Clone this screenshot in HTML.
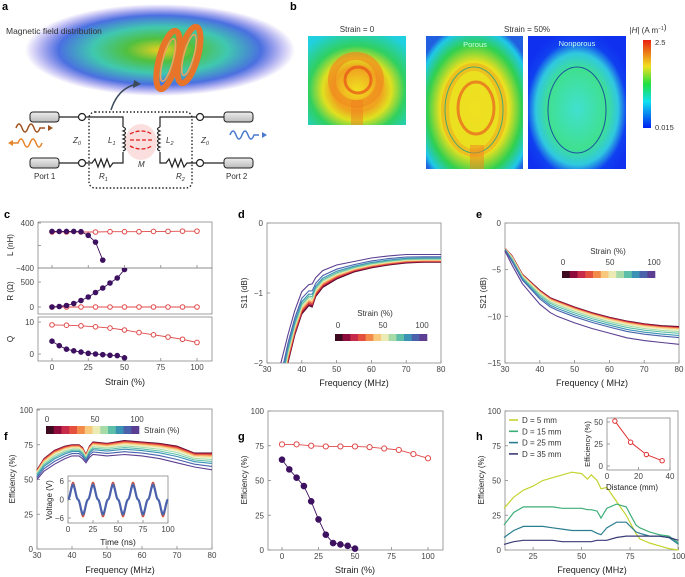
<!DOCTYPE html>
<html><head><meta charset="utf-8">
<style>
html,body{margin:0;padding:0;background:#fff;}
svg{display:block;font-family:"Liberation Sans",sans-serif;}
.pl{font-size:11px;font-weight:bold;fill:#000;}
</style></head>
<body>
<svg id="fig" width="685" height="577" viewBox="0 0 685 577" xmlns="http://www.w3.org/2000/svg">
<defs>
<radialGradient id="cloud" cx="0.5" cy="0.5" r="0.5">
<stop offset="0" stop-color="#e8d020"/><stop offset="0.25" stop-color="#50c040"/><stop offset="0.5" stop-color="#40c8b0"/><stop offset="0.75" stop-color="#4a70e0"/><stop offset="1" stop-color="#6a50e0" stop-opacity="0"/>
</radialGradient>
<radialGradient id="hm0" cx="0.5" cy="0.6" r="0.7">
<stop offset="0" stop-color="#f0e020"/><stop offset="0.35" stop-color="#f0a020"/><stop offset="0.5" stop-color="#e0e020"/><stop offset="0.7" stop-color="#30d060"/><stop offset="1" stop-color="#20d0e0"/>
</radialGradient>
<radialGradient id="hm1" cx="0.5" cy="0.55" r="0.65">
<stop offset="0" stop-color="#f0e020"/><stop offset="0.55" stop-color="#e8e020"/><stop offset="0.75" stop-color="#30d050"/><stop offset="0.92" stop-color="#20c8e8"/><stop offset="1" stop-color="#2060e0"/>
</radialGradient>
<radialGradient id="hm2" cx="0.5" cy="0.55" r="0.6">
<stop offset="0" stop-color="#40e0d0"/><stop offset="0.5" stop-color="#40e090"/><stop offset="0.7" stop-color="#30c8e0"/><stop offset="0.85" stop-color="#1040f0"/><stop offset="1" stop-color="#1030f0"/>
</radialGradient>
<linearGradient id="cbar" x1="0" y1="1" x2="0" y2="0">
<stop offset="0" stop-color="#0020f0"/><stop offset="0.3" stop-color="#10e0f0"/><stop offset="0.5" stop-color="#20e040"/><stop offset="0.7" stop-color="#f0e020"/><stop offset="1" stop-color="#e82010"/>
</linearGradient>
<linearGradient id="cab" x1="0" y1="0" x2="0" y2="1"><stop offset="0" stop-color="#eee"/><stop offset="1" stop-color="#bbb"/></linearGradient>
</defs>

<text class="pl" x="2" y="10">a</text>
<text class="pl" x="290" y="10">b</text>
<text class="pl" x="4" y="218">c</text>
<text class="pl" x="238" y="218">d</text>
<text class="pl" x="476" y="218">e</text>
<text class="pl" x="4" y="440">f</text>
<text class="pl" x="238" y="440">g</text>
<text class="pl" x="476" y="440">h</text>

<g>
<ellipse cx="160" cy="50" rx="135" ry="46" fill="url(#cloud)"/>
<text x="6" y="34" font-size="8.5" fill="#333">Magnetic field distribution</text>
<g fill="none" stroke="#e8742a">
<ellipse cx="168" cy="60" rx="9" ry="30" stroke-width="6" transform="rotate(15 168 60)"/>
<ellipse cx="189" cy="55" rx="9" ry="29" stroke-width="6" transform="rotate(15 189 55)"/>
<ellipse cx="168" cy="60" rx="5" ry="22" stroke-width="1.5" stroke="#f3a060" transform="rotate(15 168 60)"/>
<ellipse cx="189" cy="55" rx="5" ry="21" stroke-width="1.5" stroke="#f3a060" transform="rotate(15 189 55)"/>
</g>
<path d="M111 110 Q118 88 137 84" fill="none" stroke="#3a4a5a" stroke-width="1.5"/>
<path d="M134 80 L141 84 L133 88 Z" fill="#3a4a5a"/>
<rect x="30" y="112" width="29" height="10" rx="3" fill="url(#cab)" stroke="#222" stroke-width="1"/>
<rect x="30" y="158" width="29" height="10" rx="3" fill="url(#cab)" stroke="#222" stroke-width="1"/>
<rect x="224" y="112" width="29" height="10" rx="3" fill="url(#cab)" stroke="#222" stroke-width="1"/>
<rect x="224" y="158" width="29" height="10" rx="3" fill="url(#cab)" stroke="#222" stroke-width="1"/>
<g stroke="#222" stroke-width="1.2" fill="none">
<path d="M59 117 H78 M86 117 H123 V127 M59 163 H78 M86 163 H92 l3 -4 l3 8 l3 -8 l3 8 l3 -8 l3 8 l3 -4 H123 V152"/>
<path d="M123 127 q5 2 0 4 q5 2 0 4 q5 2 0 4 q5 2 0 4 q5 2 0 4 q5 2 0 4"/>
<path d="M160 127 q-5 2 0 4 q-5 2 0 4 q-5 2 0 4 q-5 2 0 4 q-5 2 0 4 q-5 2 0 4"/>
<path d="M160 127 V117 H196 M204 117 H224 M160 152 V163 H166 l3 -4 l3 8 l3 -8 l3 8 l3 -8 l3 8 l3 -4 H196 M204 163 H224"/>
<circle cx="82" cy="117" r="3.5" fill="#fff"/><circle cx="82" cy="163" r="3.5" fill="#fff"/>
<circle cx="200" cy="117" r="3.5" fill="#fff"/><circle cx="200" cy="163" r="3.5" fill="#fff"/>
</g>
<rect x="89" y="112" width="103" height="76" rx="6" fill="none" stroke="#222" stroke-width="1.4" stroke-dasharray="1.5,2"/>
<ellipse cx="141" cy="142" rx="16" ry="18" fill="#f08080" opacity="0.25"/>
<g stroke="#e02020" stroke-width="1.3" stroke-dasharray="4,2" fill="none">
<path d="M130 134 Q141 128 152 134"/><path d="M130 140 H152"/><path d="M130 146 Q141 152 152 146"/>
</g>
<path d="M16 128 q3 -8 6 0 q3 8 6 0 q3 -8 6 0 q3 8 6 0 h5" fill="none" stroke="#a0521e" stroke-width="1.5"/>
<path d="M48 125 l5 3 l-5 3z" fill="#a0521e"/>
<path d="M13 143 h5 q3 -8 6 0 q3 8 6 0 q3 -8 6 0 q3 8 6 0" fill="none" stroke="#e8842a" stroke-width="1.5"/>
<path d="M13 140 l-5 3 l5 3z" fill="#e8842a"/>
<path d="M230 135 q3 -8 6 0 q3 8 6 0 q3 -8 6 0 q3 8 6 0 h5" fill="none" stroke="#4a78d0" stroke-width="1.5"/>
<path d="M262 132 l5 3 l-5 3z" fill="#4a78d0"/>
<g font-size="8" fill="#333" font-style="italic">
<text x="73" y="143">Z<tspan font-size="5.5" dy="2">0</tspan></text>
<text x="108" y="143">L<tspan font-size="5.5" dy="2">1</tspan></text>
<text x="166" y="143">L<tspan font-size="5.5" dy="2">2</tspan></text>
<text x="201" y="143">Z<tspan font-size="5.5" dy="2">0</tspan></text>
<text x="138" y="167">M</text>
<text x="99" y="179">R<tspan font-size="5.5" dy="2">1</tspan></text>
<text x="176" y="179">R<tspan font-size="5.5" dy="2">2</tspan></text>
</g>
<text x="34" y="179" font-size="8" fill="#333">Port 1</text>
<text x="226" y="179" font-size="8" fill="#333">Port 2</text>
</g>

<g>
<text x="357" y="32" font-size="8" text-anchor="middle" fill="#333">Strain = 0</text>
<text x="527" y="32" font-size="8" text-anchor="middle" fill="#333">Strain = 50%</text>
<rect x="308" y="36" width="98" height="89" fill="url(#hm0)"/>
<circle cx="356" cy="80" r="24" fill="none" stroke="#f08a20" stroke-width="8" opacity="0.7"/>
<circle cx="358" cy="80" r="13" fill="none" stroke="#e85018" stroke-width="3" opacity="0.7"/>
<rect x="351" y="100" width="12" height="25" fill="#f08020" opacity="0.5"/>
<rect x="426" y="36" width="97" height="133" fill="url(#hm1)"/>
<ellipse cx="474" cy="110" rx="29" ry="43" fill="none" stroke="#f0a020" stroke-width="8" opacity="0.5"/>
<ellipse cx="476" cy="108" rx="18" ry="26" fill="none" stroke="#e86020" stroke-width="3" opacity="0.7"/>
<ellipse cx="474" cy="110" rx="29" ry="43" fill="none" stroke="#20a080" stroke-width="1" opacity="0.8"/>
<rect x="470" y="145" width="14" height="24" fill="#f08020" opacity="0.5"/>
<text x="475" y="47" font-size="7.5" text-anchor="middle" fill="#cfe">Porous</text>
<rect x="528" y="36" width="98" height="133" fill="url(#hm2)"/>
<ellipse cx="577" cy="110" rx="29" ry="43" fill="none" stroke="#1030a0" stroke-width="1" opacity="0.8"/>
<text x="577" y="46" font-size="7.5" text-anchor="middle" fill="#cfe">Nonporous</text>
<text x="648" y="33" font-size="8" text-anchor="middle" fill="#333">|<tspan font-style="italic">H</tspan>| (A m<tspan font-size="5" dy="-3">−1</tspan>)</text>
<rect x="643" y="40" width="8" height="88" fill="url(#cbar)"/>
<text x="655" y="45" font-size="7.5" fill="#333">2.5</text>
<text x="655" y="130" font-size="7.5" fill="#333">0.015</text>
</g>

<g id="charts"></g>
</svg>
<script>
const cmap = ['#3d0a20','#8e0c3c','#c82a4a','#e5503e','#f28a4a','#f8c87c','#ecebb4','#a6dba8','#5ebfa8','#3a92b4','#4a62ac','#5c3f92','#262448'];
const strainL = [0,5,10,15,20,25,30,35];
const purpleL = [250,250,250,250,245,180,60,-260];
const strainRed = [0,10,20,30,40,50,60,70,80,90,100];
const redL = [240,240,240,240,245,245,245,250,250,255,255];
const strainP = [0,5,10,15,20,25,30,35,40,45,50];
const purpleR = [0,10,30,70,130,200,290,380,480,580,750];
const redR = [0,0,0,0,0,0,0,0,0,0,0];
const redQ = [9.1,9.0,8.8,8.5,8.1,7.5,6.7,6.0,5.3,4.6,3.6];
const purpleQ = [4.0,2.6,1.5,1.0,0.6,0.2,0.0,-0.2,-0.4,-0.5,-1.2];

const freqD = [34,36,38,40,42,43,44,46,50,55,60,65,70,75,80];
const s11Low = [-2.6,-2.0,-1.6,-1.3,-1.18,-1.2,-1.05,-0.92,-0.8,-0.7,-0.64,-0.6,-0.57,-0.56,-0.56];
const s11High = [-2.0,-1.6,-1.25,-0.98,-0.88,-0.87,-0.78,-0.68,-0.6,-0.55,-0.5,-0.47,-0.45,-0.45,-0.45];
const s11Mix = [0,0.05,0.1,0.15,0.2,0.26,0.32,0.38,0.45,0.55,0.7,1.0];

const freqE = [30,32,35,40,43,45,50,55,60,65,70,75,80];
const s21Low = [-2.7,-3.5,-5.5,-7.2,-8.0,-8.3,-9.0,-9.6,-10.1,-10.5,-10.8,-11.0,-11.1];
const s21High = [-3.0,-4.5,-6.5,-8.7,-9.6,-10.0,-10.7,-11.3,-11.8,-12.3,-12.6,-12.8,-13.0];
const s21Mix = [0,0.02,0.05,0.08,0.1,0.13,0.2,0.28,0.38,0.5,0.62,1.0];

const freqF = [30,32,35,38,40,42,43,44,45,46,50,55,60,65,70,75,80];
const effHigh = [57,65,71,74,75,75,73,68,74,77,76,78,77,76,74,69,69];
const effLow = [50,56,61,65,67,67,65,62,66,68,67,68,67,65,62,59,57];
const effMix = [0,0.03,0.06,0.1,0.14,0.2,0.28,0.38,0.5,0.62,0.8,1.0];
const timeF = [0,5,10,15,20,25,30,35,40,45,50,55,60,65,70,75,80,85,90,95,100];
const voltF = [0,5,0,-5,0,5,0,-5,0,5,0,-5,0,5,0,-5,0,5,0,-5,0];

const strainG1 = [0,10,20,30,40,50,60,70,80,90,100];
const effPorous = [76,76,75,74.5,74.5,74.5,74,73,72,69,66];
const strainG2 = [0,5,10,15,20,25,30,35,40,45,50];
const effNonporous = [65,58,52,46,35,22,11,5,4,3,1];

const freqH = [10,15,20,25,30,35,40,45,50,53,55,58,60,63,68,73,78,80,85,90,95,100];
const effD5 = [30,38,43,46,50,52,54,56,55,51,54,50,44,45,35,25,12,8,5,3,1,0];
const effD15 = [18,27,31,31,31,31,30,30,30,29,29,28,23,30,33,31,18,16,13,11,10,5];
const effD25 = [9,14,17,17,17,16,15,14,14,14,14,12,11,16,20,20,13,12,10,10,9,4];
const effD35 = [4,6,7,7,7,7,6,6,6,6,6,7,7,7,9,10,10,10,10,10,9,7];
const distH = [5,15,25,35];
const effDist = [51,27,13,6];
const hLabels = ['D = 5 mm','D = 15 mm','D = 25 mm','D = 35 mm'];
const hColors = ['#c4d430','#3eae78','#2a7e90','#3a3c78'];

const NS='http://www.w3.org/2000/svg';
const root=document.getElementById('charts');
function el(tag,attrs,name,parent){
  const e=document.createElementNS(NS,tag);
  for(const k in attrs)e.setAttribute(k,attrs[k]);
  
  
  (parent||root).appendChild(e);return e;
}
function txt(x,y,s,name,opt){
  opt=opt||{};
  const t=el('text',{x:x,y:y,'font-size':opt.fs||8,fill:opt.fill||'#444','text-anchor':opt.anchor||'middle'},name);
  if(opt.rot)t.setAttribute('transform','rotate(-90 '+x+' '+y+')');
  t.textContent=s;return t;
}
function box(x0,y0,x1,y1,name){el('rect',{x:x0,y:y0,width:x1-x0,height:y1-y0,fill:'none',stroke:'#888','stroke-width':0.8},name);}
function line(xs,ys,sx,sy,color,name,w,parent){
  let d='';for(let i=0;i<xs.length;i++)d+=(i?'L':'M')+sx(xs[i]).toFixed(1)+' '+sy(ys[i]).toFixed(1);
  el('path',{d:d,fill:'none',stroke:color,'stroke-width':w||1.2},name,parent);
}
function pts(xs,ys,sx,sy,color,filled,name,r,parent){
  for(let i=0;i<xs.length;i++)el('circle',{cx:sx(xs[i]),cy:sy(ys[i]),r:r||2.6,fill:filled?color:'#fff',stroke:color,'stroke-width':1},name,parent);
}
function xticks(vals,sx,yb,name,len){
  vals.forEach(v=>{el('line',{x1:sx(v),x2:sx(v),y1:yb,y2:yb-(len||3),stroke:'#888','stroke-width':0.8},name+'-tick');txt(sx(v),yb+9,String(v),name+'-label');});
}
function yticks(vals,sy,xl,name,labels){
  vals.forEach((v,i)=>{el('line',{x1:xl,x2:xl+3,y1:sy(v),y2:sy(v),stroke:'#888','stroke-width':0.8},name+'-tick');
    const lb=labels?labels[i]:String(v); if(lb!=='')txt(xl-4,sy(v)+3,lb.replace('-','−'),name+'-label',{anchor:'end'});});
}
function mix(a,b,w){return a.map((v,i)=>v+(b[i]-v)*w);}
function clip(id,x0,y0,x1,y1){const c=el('clipPath',{id:id},'clip');el('rect',{x:x0,y:y0,width:x1-x0,height:y1-y0},'clip-rect',c);}
function colorbar(x0,y0,w,h,name){const n=cmap.length-1;for(let i=0;i<n;i++)el('rect',{x:x0+i*w/n,y:y0,width:w/n+0.3,height:h,fill:cmap[i]},name);}

// panel c
const cx=s=>52+s*1.45;
const yL=v=>245.5-v*0.05625, yR=v=>307-v*0.05, yQ=v=>354-v*3.2;
box(38,222,212,268,'inductance-plot-frame');box(38,268,212,314,'resistance-plot-frame');box(38,317,212,361,'q-plot-frame');
clip('cL',38,222,212,268);clip('cR',38,268,212,314);clip('cQ',38,317,212,361);
yticks([400,0,-400],yL,38,'l-axis',['400','','-400']);yticks([500,0],yR,38,'r-axis');yticks([10,0],yQ,38,'q-axis');
[0,25,50,75,100].forEach(v=>{el('line',{x1:cx(v),x2:cx(v),y1:268,y2:265,stroke:'#888','stroke-width':0.8},'l-x-tick');});
xticks([0,25,50,75,100],cx,361,'c-x-axis');
txt(125,385,'Strain (%)','c-x-title',{fs:9,fill:'#222'});
txt(13,245,'L (nH)','l-y-title',{rot:1,fill:'#222'});txt(13,291,'R (Ω)','r-y-title',{rot:1,fill:'#222'});txt(13,339,'Q','q-y-title',{rot:1,fill:'#222'});
const gL=el('g',{'clip-path':'url(#cL)'},'l-series');
const gR=el('g',{'clip-path':'url(#cR)'},'r-series');
const gQ=el('g',{'clip-path':'url(#cQ)'},'q-series');
line(strainRed,redL,cx,yL,'#e04a4a','l-porous-line',0.9,gL);pts(strainRed,redL,cx,yL,'#e04a4a',false,'l-porous-point',2.3,gL);
line(strainL,purpleL,cx,yL,'#3d1060','l-nonporous-line',0.9,gL);pts(strainL,purpleL,cx,yL,'#3d1060',true,'l-nonporous-point',2.3,gL);
line(strainRed,redR,cx,yR,'#e04a4a','r-porous-line',0.9,gR);pts(strainRed,redR,cx,yR,'#e04a4a',false,'r-porous-point',2.3,gR);
line(strainP,purpleR,cx,yR,'#3d1060','r-nonporous-line',0.9,gR);pts(strainP,purpleR,cx,yR,'#3d1060',true,'r-nonporous-point',2.3,gR);
line(strainRed,redQ,cx,yQ,'#e04a4a','q-porous-line',0.9,gQ);pts(strainRed,redQ,cx,yQ,'#e04a4a',false,'q-porous-point',2.3,gQ);
line(strainP,purpleQ,cx,yQ,'#3d1060','q-nonporous-line',0.9,gQ);pts(strainP,purpleQ,cx,yQ,'#3d1060',true,'q-nonporous-point',2.3,gQ);

// panel d
const dx=f=>267+(f-30)*3.48, dy=v=>223-v*70;
clip('cD',267,223,441,363);
box(267,223,441,363,'s11-plot-frame');
yticks([0,-1,-2],dy,267,'s11-y-axis');xticks([30,40,50,60,70,80],dx,363,'s11-x-axis');
txt(354,386,'Frequency (MHz)','s11-x-title',{fs:9,fill:'#222'});
txt(247,293,'S11 (dB)','s11-y-title',{rot:1,fill:'#222'});
const gD=el('g',{'clip-path':'url(#cD)'},'s11-curves');
s11Mix.forEach((w,i)=>{line(freqD,mix(s11Low,s11High,w),dx,dy,cmap[i],'s11-curve',1.1,gD);});
txt(375,316,'Strain (%)','s11-legend-title',{fs:8,fill:'#333'});
txt(338,328,'0','s11-legend-0');txt(383,328,'50','s11-legend-50');txt(422,328,'100','s11-legend-100');
colorbar(335,334,92,7,'s11-colorbar-swatch');

// panel e
const ex=f=>505+(f-30)*3.48, ey=v=>223-v*9.333;
box(505,223,679,363,'s21-plot-frame');
yticks([0,-5,-10,-15],ey,505,'s21-y-axis');xticks([30,40,50,60,70,80],ex,363,'s21-x-axis');
txt(592,386,'Frequency ( MHz)','s21-x-title',{fs:9,fill:'#222'});
txt(486,293,'S21 (dB)','s21-y-title',{rot:1,fill:'#222'});
s21Mix.forEach((w,i)=>{line(freqE,mix(s21Low,s21High,w),ex,ey,cmap[i],'s21-curve',1.1);});
txt(608,254,'Strain (%)','s21-legend-title',{fs:8,fill:'#333'});
txt(563,265,'0','s21-legend-0');txt(610,265,'50','s21-legend-50');txt(654,265,'100','s21-legend-100');
colorbar(562,271,93,7,'s21-colorbar-swatch');

// panel f
const fx=f=>37+(f-30)*3.5, fy=v=>549-v*1.39;
box(37,409,212,549,'efficiency-freq-plot-frame');
yticks([0,25,50,75,100],fy,37,'f-y-axis');xticks([30,40,50,60,70,80],fx,549,'f-x-axis');
txt(120,573,'Frequency (MHz)','f-x-title',{fs:9,fill:'#222'});
txt(15,479,'Efficiency (%)','f-y-title',{rot:1,fill:'#222'});
effMix.forEach((w,i)=>{line(freqF,mix(effHigh,effLow,w),fx,fy,cmap[i],'f-efficiency-curve',1.1);});
txt(47,422,'0','f-legend-0');txt(95,422,'50','f-legend-50');txt(137,422,'100','f-legend-100');
colorbar(46,426,93,8,'f-colorbar-swatch');
txt(144,433,'Strain (%)','f-legend-title',{fs:8,fill:'#333',anchor:'start'});
const ix=t=>68+t*1.0, iy=v=>499.5-v*3.08;
el('rect',{x:68,y:476,width:100,height:47,fill:'#fff',stroke:'#888','stroke-width':0.8},'voltage-inset-frame');
yticks([6,0,-6],iy,68,'inset-y-axis');xticks([0,25,50,75,100],ix,523,'inset-x-axis');
txt(118,545,'Time (ns)','inset-x-title',{fs:8.5,fill:'#222'});
txt(52,500,'Voltage (V)','inset-y-title',{rot:1,fill:'#222'});
[cmap[4],cmap[2],cmap[8],cmap[10]].forEach((c,k)=>{const sc=[1.12,1.08,1.0,0.94][k];
  let d='';for(let t=0;t<=100;t+=0.5){let i=Math.min(timeF.length-2,Math.floor(t/5));const fr=(t-timeF[i])/(timeF[i+1]-timeF[i]);
    const e=(1-Math.cos(Math.PI*fr))/2;
    const v=(voltF[i]+(voltF[i+1]-voltF[i])*e)*sc; d+=(t?'L':'M')+ix(t).toFixed(1)+' '+iy(v).toFixed(1);}
  el('path',{d:d,fill:'none',stroke:c,'stroke-width':k===3?2.2:1.4},'inset-voltage-wave');});

// panel g
const gx=s=>282+s*1.46, gy=v=>550-v*1.39;
box(268,411,443,550,'efficiency-strain-plot-frame');
yticks([0,25,50,75,100],gy,268,'g-y-axis');xticks([0,25,50,75,100],gx,550,'g-x-axis');
txt(355,573,'Strain (%)','g-x-title',{fs:9,fill:'#222'});
txt(247,480,'Efficiency (%)','g-y-title',{rot:1,fill:'#222'});
line(strainG1,effPorous,gx,gy,'#e04a4a','g-porous-line',0.9);pts(strainG1,effPorous,gx,gy,'#e04a4a',false,'g-porous-point',2.6);
line(strainG2,effNonporous,gx,gy,'#3d1060','g-nonporous-line',0.9);pts(strainG2,effNonporous,gx,gy,'#3d1060',true,'g-nonporous-point',2.8);

// panel h
const hx=f=>504+(f-10)*1.94, hy=v=>550-v*1.39;
box(505,411,678,550,'efficiency-distance-plot-frame');
yticks([0,25,50,75,100],hy,505,'h-y-axis');xticks([25,50,75,100],hx,550,'h-x-axis');
txt(592,573,'Frequency (MHz)','h-x-title',{fs:9,fill:'#222'});
txt(484,480,'Efficiency (%)','h-y-title',{rot:1,fill:'#222'});
[effD5,effD15,effD25,effD35].forEach((ys,i)=>{line(freqH,ys,hx,hy,hColors[i],'h-curve',1.2);});
hLabels.forEach((lb,i)=>{const y=420+i*11.3;
  el('line',{x1:509,x2:518,y1:y,y2:y,stroke:hColors[i],'stroke-width':1.6},'h-legend-swatch');
  txt(522,y+3,lb,'h-legend-label',{anchor:'start',fill:'#333',fs:8});});
const dxi=d=>607+d*1.575, dyi=v=>466-v*0.88;
el('rect',{x:607,y:418,width:63,height:52,fill:'#fff',stroke:'#888','stroke-width':0.8},'h-inset-frame');
yticks([0,25,50],dyi,607,'h-inset-y-axis');xticks([0,20,40],dxi,470,'h-inset-x-axis');
txt(632,490,'Distance (mm)','h-inset-x-title',{fs:8,fill:'#222'});
txt(590,444,'Efficiency (%)','h-inset-y-title',{rot:1,fill:'#222',fs:7.5});
line(distH,effDist,dxi,dyi,'#e03030','h-inset-line',1);pts(distH,effDist,dxi,dyi,'#e03030',false,'h-inset-point',2.2);
</script>
</body></html>
